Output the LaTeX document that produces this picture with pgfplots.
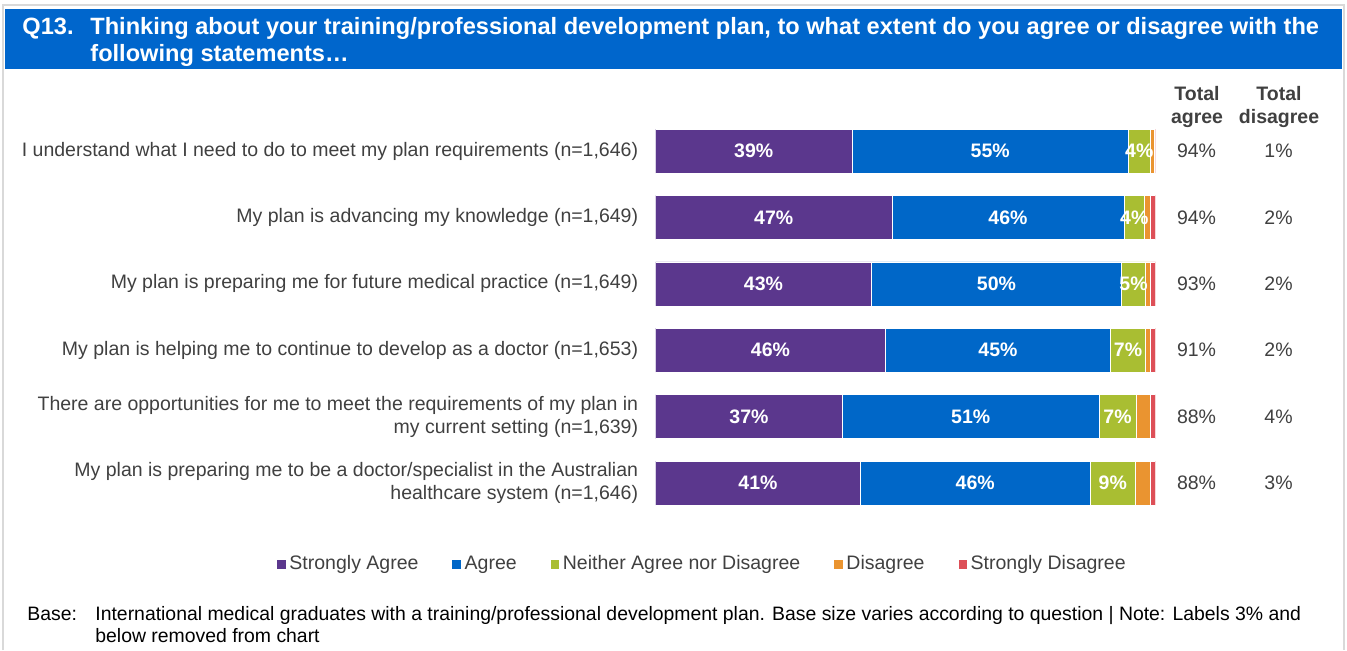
\documentclass[border=0pt]{standalone}
\usepackage{pgfplots}
\usepackage{pgfplotstable}
\pgfplotsset{compat=1.18}
\usepackage{fontspec}
\setmainfont{Liberation Sans}

\definecolor{sagree}{HTML}{5B378D}
\definecolor{agree}{HTML}{0067C8}
\definecolor{neither}{HTML}{A9BE32}
\definecolor{disagree}{HTML}{EA9430}
\definecolor{sdisagree}{HTML}{DD4F57}
\definecolor{hdrblue}{HTML}{0066CC}
\definecolor{txtgray}{HTML}{404040}
\definecolor{framegray}{HTML}{D9D9D9}

\newcommand{\lbl}{\fontsize{9.75}{11.5}\selectfont}

% shares per statement (percent)
\pgfplotstableread{
row sa   ag   ne  di  sd
1   39.3 55.3 4.3 0.8 0.3
2   47.3 46.4 4.1 1.1 1.1
3   43.2 50.0 4.8 1.0 1.0
4   46.0 45.0 7.0 1.0 1.0
5   37.4 51.3 7.4 2.8 1.1
6   41.0 45.9 9.1 3.0 1.0
}\likert

\pgfplotstableread{
row ta td
1   94 1
2   94 2
3   93 2
4   91 2
5   88 4
6   88 3
}\totals

\begin{document}
\begin{tikzpicture}
\begin{scope}[x=0.5pt,y=-0.5pt]
\path[use as bounding box] (0,0) rectangle (1347,650);
\draw[framegray, line width=0.8pt] (3,650) -- (3,5) -- (1344,5) -- (1344,650);
\fill[hdrblue] (5,9) rectangle (1342,69);
\begin{scope}[every node/.style={anchor=base west, inner sep=0pt, text=white, font=\bfseries\fontsize{11.8}{14}\selectfont}]
\node at (22,34) {Q13.};
\node at (90,34) {Thinking about your training/professional development plan, to what extent do you agree or disagree with the};
\node at (90,61) {following statements…};
\end{scope}
\begin{scope}[every node/.style={anchor=base, inner sep=0pt, text=txtgray, font=\bfseries\lbl}]
\node at (1197,100) {Total};
\node at (1197,123) {agree};
\node at (1279,100) {Total};
\node at (1279,123) {disagree};
\end{scope}
\begin{scope}[every node/.style={anchor=base west, inner sep=0pt, text=black, font=\fontsize{9.7}{11.5}\selectfont}]
\node at (27,620) {Base:};
\node at (95,620) {International medical graduates with a training/professional development plan. Base size varies according to question | Note: Labels 3\% and};
\node at (95,642) {below removed from chart};
\end{scope}
\end{scope}

\begin{axis}[
  at={(327.75pt,-58.9pt)}, anchor=north west,
  scale only axis, width=250pt, height=199.2pt,
  xbar stacked, bar width=22pt,
  xmin=0, xmax=100, ymin=0.5, ymax=6.5, y dir=reverse,
  hide x axis,
  axis line style={draw=none},
  ytick={1,...,6}, ytick style={draw=none}, major tick length=0pt,
  yticklabels={
    {I understand what I need to do to meet my plan requirements (n=1,646)},
    {My plan is advancing my knowledge (n=1,649)},
    {My plan is preparing me for future medical practice (n=1,649)},
    {My plan is helping me to continue to develop as a doctor (n=1,653)},
    {There are opportunities for me to meet the requirements of my plan in\\my current setting (n=1,639)},
    {My plan is preparing me to be a doctor/specialist in the Australian\\healthcare system (n=1,646)}},
  yticklabel style={font=\lbl, text=txtgray, align=right, inner sep=0pt, xshift=-8.5pt},
  visualization depends on={rawx \as \rawx},
  nodes near coords={\ifdim\rawx pt>3.5pt\pgfmathprintnumber[fixed,precision=0,assume math mode=true]{\rawx}\%\fi},
  nodes near coords style={font=\bfseries\lbl, text=white},
  legend columns=5,
  legend style={draw=none, fill=none, at={(0.094,-0.12)}, anchor=center,
    font=\lbl, text=txtgray, nodes={inner xsep=1.5pt},
    /tikz/every even column/.append style={column sep=15pt}},
  legend image code/.code={\fill[#1] (0pt,-2.4pt) rectangle (4.8pt,2.4pt);},
]
\addplot[fill=sagree, draw=white, line width=0.3pt] table[x=sa, y=row]{\likert};
\addplot[fill=agree, draw=white, line width=0.3pt] table[x=ag, y=row]{\likert};
\addplot[fill=neither, draw=white, line width=0.3pt] table[x=ne, y=row]{\likert};
\addplot[fill=disagree, draw=white, line width=0.3pt] table[x=di, y=row]{\likert};
\addplot[fill=sdisagree, draw=white, line width=0.3pt] table[x=sd, y=row]{\likert};
\legend{Strongly Agree, Agree, Neither Agree nor Disagree, Disagree, Strongly Disagree}
\end{axis}

\begin{axis}[
  at={(327.75pt,-58.9pt)}, anchor=north west,
  scale only axis, width=250pt, height=199.2pt,
  xmin=0, xmax=100, ymin=0.5, ymax=6.5, y dir=reverse,
  hide axis, clip=false,
  point meta=explicit,
  nodes near coords={\pgfmathprintnumber[assume math mode=true]{\pgfplotspointmeta}\%},
  nodes near coords style={font=\lbl, text=txtgray, anchor=center},
]
\addplot[draw=none, mark=none] table[x expr=108.2, y=row, meta=ta]{\totals};
\addplot[draw=none, mark=none] table[x expr=124.6, y=row, meta=td]{\totals};
\end{axis}
\end{tikzpicture}
\end{document}
